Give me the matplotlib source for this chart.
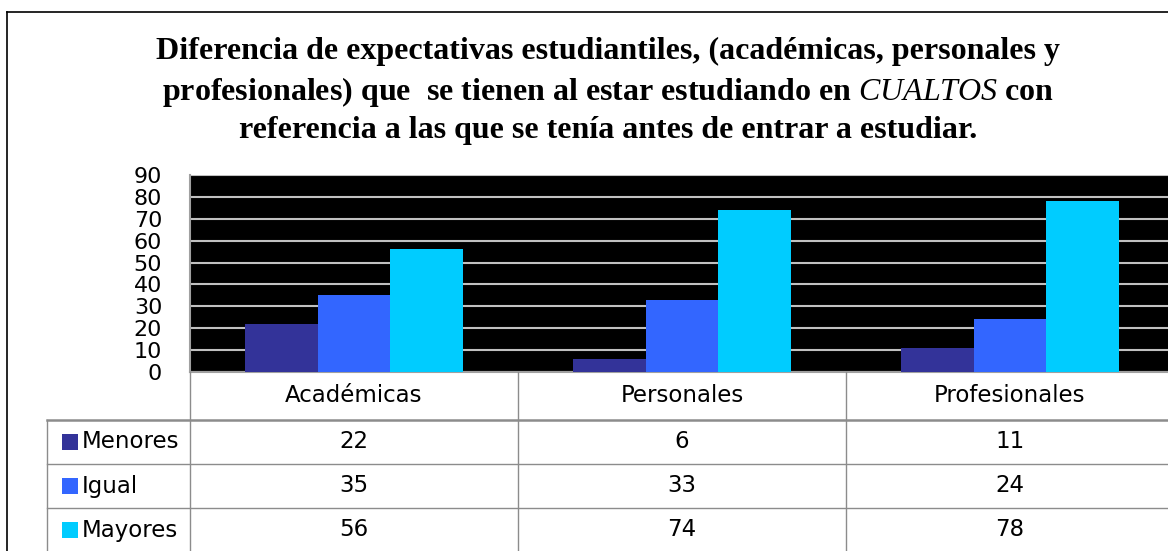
import numpy as np
import matplotlib
matplotlib.use('Agg')
import matplotlib.pyplot as plt
from matplotlib.transforms import blended_transform_factory
from matplotlib.lines import Line2D
from matplotlib.patches import Rectangle

# Data
categories = ['Académicas', 'Personales', 'Profesionales']
series_names = ['Menores', 'Igual', 'Mayores']
menores = [22, 6, 11]
igual = [35, 33, 24]
mayores = [56, 74, 78]
yticks = [0, 10, 20, 30, 40, 50, 60, 70, 80, 90]

colors = ['#333399', '#3366FF', '#00CCFF']
series = [menores, igual, mayores]

plt.rcParams['mathtext.fontset'] = 'custom'
plt.rcParams['mathtext.it'] = 'Liberation Serif:italic'
plt.rcParams['mathtext.rm'] = 'Liberation Serif:bold'

W, H = 1168, 551
fig = plt.figure(figsize=(W / 100, H / 100), dpi=100)


def fx(px):
    return px / W


def fy(py):
    return 1 - py / H


# plot area (runs slightly past the right edge, as in the original)
ax = fig.add_axes([fx(190), fy(372), fx(1174) - fx(190), fy(175) - fy(372)])
ax.set_facecolor('black')
x = np.arange(len(categories))
w = 0.2225
for i, (vals, c) in enumerate(zip(series, colors)):
    ax.bar(x + (i - 1) * w, vals, width=w, color=c, zorder=3)

ax.set_xlim(-0.5, 2.5)
ax.set_ylim(0, 90)
ax.set_yticks(yticks)
ax.set_yticklabels([str(v) for v in yticks], fontsize=16, family='DejaVu Sans')
ax.set_xticks([])
ax.tick_params(axis='y', length=0, pad=20)
ax.yaxis.grid(True, color='#c0c0c0', linewidth=1.5, zorder=1)
for s in ['top', 'right']:
    ax.spines[s].set_visible(False)
for s in ['left', 'bottom']:
    ax.spines[s].set_color('#a0a0a0')
    ax.spines[s].set_linewidth(1.5)

# title
title = ('Diferencia de expectativas estudiantiles, (académicas, personales y\n'
         'profesionales) que  se tienen al estar estudiando en $\\mathit{CUALTOS}$ con\n'
         'referencia a las que se tenía antes de entrar a estudiar.')
fig.text(fx(608), fy(91), title, ha='center', va='center', fontsize=23,
         family='Liberation Serif', weight='bold', linespacing=1.34)

# outer frame
fig.add_artist(Line2D([fx(7), fx(1168)], [fy(12), fy(12)], color='black', lw=1.2))
fig.add_artist(Line2D([fx(7), fx(7)], [fy(12), fy(551)], color='black', lw=1.2))

# data table under the plot
tr = blended_transform_factory(ax.transData, fig.transFigure)
grid_c = '#8c8c8c'
for b in [-0.5, 0.5, 1.5]:
    fig.add_artist(Line2D([b, b], [fy(372), fy(551)], transform=tr, color=grid_c, lw=1.0))
fig.add_artist(Line2D([fx(47), fx(47)], [fy(420), fy(551)], color=grid_c, lw=1.0))
fig.add_artist(Line2D([fx(47), fx(1168)], [fy(420), fy(420)], color=grid_c, lw=1.8))
for yy in [464, 508]:
    fig.add_artist(Line2D([fx(47), fx(1168)], [fy(yy), fy(yy)], color=grid_c, lw=1.0))

for i, cat in enumerate(categories):
    fig.text(x[i], fy(396), cat, transform=tr, ha='center', va='center',
             fontsize=16.5, family='DejaVu Sans')

row_y = [442, 486, 530]
for r, (name, vals, c) in enumerate(zip(series_names, series, colors)):
    fig.add_artist(Rectangle((fx(62), fy(row_y[r] + 8)), fx(16), fy(0) - fy(16),
                             transform=fig.transFigure, facecolor=c, edgecolor='none'))
    fig.text(fx(82), fy(row_y[r]), name, ha='left', va='center',
             fontsize=16.5, family='DejaVu Sans')
    for i, v in enumerate(vals):
        fig.text(x[i], fy(row_y[r]), str(v), transform=tr, ha='center', va='center',
                 fontsize=16.5, family='DejaVu Sans')

fig.savefig('out.png', dpi=100)
